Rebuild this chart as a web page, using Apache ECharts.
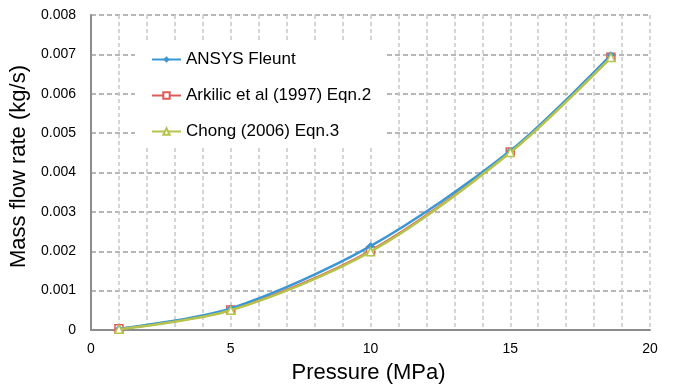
<!DOCTYPE html>
<html>
<head>
<meta charset="utf-8">
<script src="https://cdn.jsdelivr.net/npm/echarts@6/dist/echarts.min.js"></script>
<style>html,body{margin:0;padding:0;background:#fff}#c{width:675px;height:391px}</style>
</head>
<body>
<div id="c"></div>
<script>
const pressure = [1, 5, 10, 15, 18.6];
const ansys = [0.00003, 0.00055, 0.00213, 0.00455, 0.00698];
const arkilic = [0.00003, 0.00051, 0.00201, 0.00452, 0.00693];
const chong = [0.00002, 0.00050, 0.00199, 0.00451, 0.00692];
const seriesNames = ['ANSYS Fleunt', 'Arkilic et al (1997) Eqn.2', 'Chong (2006) Eqn.3'];

const pairs = a => pressure.map((p, i) => [p, a[i]]);
const chart = echarts.init(document.getElementById('c'));
const font = 'Liberation Sans, Arial, sans-serif';
chart.setOption({
  animation: false,
  grid: {left: 91, right: 25, top: 15, bottom: 61},
  legend: {
    orient: 'vertical', left: 135, top: 43,
    backgroundColor: '#fff', padding: [8, 14, 7, 16],
    itemWidth: 29, itemHeight: 8, itemGap: 19,
    textStyle: {fontFamily: font, fontSize: 17, color: '#000'},
    data: seriesNames
  },
  xAxis: {
    type: 'value', min: 0, max: 20, interval: 5,
    name: 'Pressure (MPa)', nameLocation: 'middle', nameGap: 32,
    nameTextStyle: {fontFamily: font, fontSize: 22, color: '#000', padding: [0, 4, 0, 0]},
    axisLine: {show: true, lineStyle: {color: '#8c8c8c', width: 2}},
    axisTick: {show: false},
    axisLabel: {fontFamily: font, fontSize: 14, color: '#000', margin: 12},
    splitLine: {show: true, lineStyle: {color: '#c8c8c8', type: [4, 3], width: 1.5}},
    minorTick: {show: false, splitNumber: 5},
    minorSplitLine: {show: true, lineStyle: {color: '#c8c8c8', type: [4, 3], width: 1.5}}
  },
  yAxis: {
    type: 'value', min: 0, max: 0.008, interval: 0.001,
    name: 'Mass flow rate (kg/s)', nameLocation: 'middle', nameGap: 52,
    nameTextStyle: {fontFamily: font, fontSize: 22, color: '#000', padding: [0, 0, 0, 12]},
    axisLine: {show: true, lineStyle: {color: '#8c8c8c', width: 2}},
    axisTick: {show: false},
    axisLabel: {fontFamily: font, fontSize: 14, color: '#000', margin: 15,
      formatter: v => v === 0 ? '0' : v.toFixed(3)},
    splitLine: {show: true, lineStyle: {color: '#a0a0a0', type: [5, 3], width: 1.5}}
  },
  series: [
    {name: seriesNames[0], type: 'line', smooth: 0.3, data: pairs(ansys),
     symbol: 'diamond', symbolSize: 7, z: 3,
     lineStyle: {color: '#3A97D4', width: 2.5},
     itemStyle: {color: '#3A97D4', borderColor: '#3A97D4'}},
    {name: seriesNames[1], type: 'line', smooth: 0.3, data: pairs(arkilic),
     symbol: 'rect', symbolSize: 8, z: 2,
     lineStyle: {color: '#E05A5A', width: 2.5},
     itemStyle: {color: '#fff', borderColor: '#E05A5A', borderWidth: 1.5}},
    {name: seriesNames[2], type: 'line', smooth: 0.3, data: pairs(chong),
     symbol: 'triangle', symbolSize: 8, z: 4,
     lineStyle: {color: '#B6C34C', width: 2.5},
     itemStyle: {color: '#fff', borderColor: '#B6C34C', borderWidth: 1.5}}
  ]
});
</script>
</body>
</html>
